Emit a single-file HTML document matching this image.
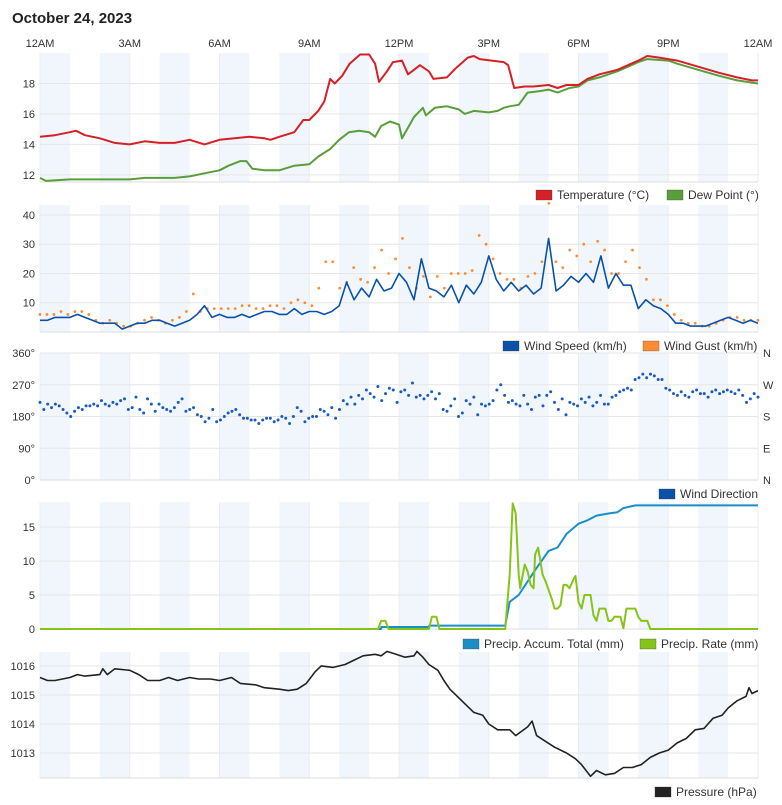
<!DOCTYPE html>
<html><head><meta charset="utf-8"><style>
body{margin:0;background:#fff;font-family:"Liberation Sans",sans-serif;}
svg text{font-family:"Liberation Sans",sans-serif;}
</style></head><body>
<svg id="c" width="782" height="800" viewBox="0 0 782 800">
<text x="12" y="23" font-size="15" font-weight="bold" fill="#222">October 24, 2023</text>
</svg>
<script>
const xTickLabels=["12AM","3AM","6AM","9AM","12PM","3PM","6PM","9PM","12AM"];
const tempHours=[0,0.5,1,1.2,1.5,2,2.5,3,3.5,4,4.5,5,5.5,6,6.5,7,7.5,7.7,8,8.5,8.8,9,9.3,9.5,9.7,9.85,10.1,10.35,10.7,11,11.2,11.33,11.6,11.8,12.1,12.3,12.5,12.7,13.0,13.15,13.6,13.9,14.3,14.5,14.7,15.1,15.5,15.65,15.85,16.2,16.5,17,17.3,17.6,18.0,18.3,18.7,19.3,20.0,20.3,20.7,21.3,22,22.7,23.3,23.8,24];
const tempValues=[14.5,14.6,14.8,14.9,14.6,14.4,14.1,14.0,14.2,14.1,14.1,14.3,14.0,14.3,14.4,14.5,14.4,14.3,14.5,14.8,15.6,15.6,16.2,16.8,18.3,18.0,18.5,19.3,19.9,19.9,19.3,18.1,18.8,19.4,19.5,18.6,18.9,19.2,18.8,18.3,18.4,19.0,19.7,19.8,19.6,19.5,19.4,19.2,17.7,17.8,17.8,17.9,17.7,17.9,17.9,18.3,18.6,18.9,19.5,19.8,19.7,19.5,19.1,18.7,18.4,18.2,18.2];
const dewHours=[0,0.2,1,1.5,2,3,3.5,4,4.5,5,5.5,6,6.3,6.7,6.9,7.1,7.5,8,8.5,9,9.3,9.7,10,10.33,10.67,11,11.2,11.4,11.7,12.0,12.1,12.33,12.5,12.7,12.8,12.9,13.2,13.6,14.0,14.2,14.5,15.0,15.3,15.5,15.7,16.0,16.3,16.7,17.0,17.3,17.7,18.0,18.3,18.7,19.3,20.0,20.3,21,21.3,22,22.7,23.3,24];
const dewValues=[11.8,11.6,11.7,11.7,11.7,11.7,11.8,11.8,11.8,11.9,12.1,12.3,12.6,12.9,12.9,12.4,12.3,12.3,12.6,12.7,13.2,13.7,14.3,14.8,14.9,14.8,14.5,15.2,15.5,15.3,14.4,15.2,15.8,16.2,16.4,15.9,16.4,16.5,16.3,16.0,16.2,16.1,16.2,16.4,16.5,16.6,17.4,17.5,17.6,17.4,17.7,17.8,18.2,18.4,18.8,19.4,19.6,19.5,19.3,18.9,18.5,18.2,18.0];
const windSpeed=[4,4,5,5,5,6,5,4,3,3,3,1,2,3,3,4,4,3,2,3,4,6,9,5,6,5,5,6,5,6,7,7,6,6,8,6,7,7,6,7,9,17,11,15,12,18,14,15,20,17,11,25,15,14,12,16,10,16,13,17,26,18,14,17,14,16,13,15,32,14,16,19,17,20,17,26,15,20,16,16,8,11,9,8,6,3,3,2,2,2,3,4,5,4,3,4,3];
const windGust=[6,6,6,7,6,7,7,6,4,3,4,3,2,2,3,4,5,4,3,4,5,7,13,7,8,8,8,8,8,9,9,8,8,9,9,8,10,11,10,9,15,24,24,15,17,22,18,17,22,28,20,25,32,22,15,19,12,19,15,20,20,20,21,33,30,25,20,18,18,15,19,20,24,44,24,22,28,26,30,24,31,28,20,20,24,28,22,18,11,11,9,6,4,3,3,2,2,3,4,5,5,4,4,4];
const windDir=[220,200,215,205,215,210,200,190,180,195,205,200,210,210,215,210,225,215,210,220,215,225,230,200,205,235,200,190,230,215,195,215,205,200,195,205,220,230,195,200,205,185,180,165,175,200,165,170,180,190,195,200,185,175,175,170,170,160,170,175,175,165,170,180,175,160,180,205,195,165,175,180,180,200,195,185,205,175,200,225,215,235,215,240,230,255,245,235,265,225,245,260,255,220,250,255,240,275,235,240,230,240,250,230,245,200,195,210,230,180,190,225,215,235,185,215,210,215,225,255,270,240,220,225,215,210,240,215,200,235,240,210,240,250,220,200,230,185,220,215,210,230,220,235,210,220,240,215,215,235,240,250,255,260,255,285,290,300,290,300,295,285,285,260,255,245,240,250,240,235,250,255,245,245,235,250,255,245,250,255,250,245,255,240,220,230,245,235];
const accumHours=[0,11.4,11.41,13.0,13.01,15.55,15.7,16.0,16.3,16.6,17.0,17.3,17.6,18.0,18.3,18.6,19.0,19.3,19.5,19.9,24];
const accumValues=[0,0,0.3,0.3,0.5,0.5,4,5,7,9,11.5,12,14,15.5,16,16.7,17,17.2,17.8,18.2,18.2];
const rateHours=[0,11.3,11.4,11.55,11.65,13.0,13.1,13.25,13.35,15.55,15.7,15.8,15.9,16.0,16.05,16.2,16.3,16.4,16.5,16.55,16.65,16.8,16.9,17.1,17.2,17.3,17.4,17.5,17.6,17.7,17.85,17.9,18.0,18.1,18.2,18.4,18.5,18.6,18.7,18.9,19.0,19.1,19.2,19.4,19.5,19.6,19.9,20.0,20.1,20.3,20.4,24];
const rateValues=[0,0,1.2,1.2,0,0,1.8,1.8,0,0,8,18.5,17,8,6,9.5,8.5,6.5,6,11,12,8,7,4.5,3,3,3.5,6.5,6.5,6,7.5,7.8,4,3,5,5,2,1.2,3,3,1.2,1.2,1.8,1.8,0.1,3,3,1.8,1.2,1.2,0,0];
const presHours=[0,0.25,0.5,1,1.25,1.5,2,2.1,2.25,2.5,3,3.3,3.6,4,4.3,4.6,5,5.3,5.7,6,6.4,6.7,7.2,7.5,8,8.3,8.6,8.9,9.2,9.4,9.8,10.2,10.5,10.8,11.2,11.4,11.6,11.9,12.2,12.5,12.6,12.8,13.0,13.3,13.5,13.7,14.2,14.5,14.8,15.0,15.3,15.7,15.9,16.3,16.45,16.6,16.9,17.2,17.6,17.9,18.1,18.4,18.6,18.9,19.2,19.5,19.8,20.1,20.4,20.7,21.0,21.3,21.6,21.9,22.2,22.5,22.8,23.0,23.3,23.6,23.7,23.8,24];
const presValues=[1015.6,1015.5,1015.5,1015.6,1015.7,1015.65,1015.7,1015.9,1015.7,1015.9,1015.85,1015.7,1015.5,1015.5,1015.6,1015.5,1015.6,1015.55,1015.55,1015.5,1015.6,1015.4,1015.35,1015.25,1015.2,1015.15,1015.2,1015.4,1015.8,1016.0,1015.95,1016.05,1016.2,1016.35,1016.4,1016.35,1016.5,1016.4,1016.3,1016.35,1016.5,1016.3,1016.05,1015.85,1015.5,1015.2,1014.7,1014.4,1014.3,1014.0,1013.8,1013.8,1013.6,1013.9,1014.1,1013.6,1013.4,1013.2,1013.0,1012.8,1012.6,1012.2,1012.4,1012.25,1012.3,1012.5,1012.5,1012.6,1012.85,1013.0,1013.1,1013.35,1013.5,1013.8,1013.85,1014.2,1014.3,1014.55,1014.8,1014.95,1015.25,1015.05,1015.15];
const tempTicks=[12,14,16,18];
const windTicks=[10,20,30,40];
const dirTicks=[0,90,180,270,360];
const dirCompass=["N","E","S","W","N"];
const precipTicks=[0,5,10,15];
const presTicks=[1013,1014,1015,1016];

const svg=document.getElementById('c');
const NS='http://www.w3.org/2000/svg';
const X0=40,X1=758;
function x(h){return X0+h*(X1-X0)/24;}
function mk(tag,attrs,parent){const e=document.createElementNS(NS,tag);for(const k in attrs)e.setAttribute(k,attrs[k]);(parent||svg).appendChild(e);return e;}
function yScale(p){return v=>p.bottom-(v-p.min)/(p.max-p.min)*(p.bottom-p.top);}

xTickLabels.forEach((t,i)=>{const e=mk('text',{x:x(i*3),y:47,'font-size':11,fill:'#333','text-anchor':'middle'});e.textContent=t;

});

function panel(name,p,ticks,fmt){
  const g=mk('g',{});
  
  
  for(let h=0;h<24;h+=2){const r=mk('rect',{x:x(h),y:p.top,width:x(1)-x(0),height:p.bottom-p.top,fill:'#f0f6fb'},g);
    
    }
  for(let h=0;h<=24;h+=3){mk('line',{x1:x(h),x2:x(h),y1:p.top,y2:p.bottom,stroke:'#e8edf2','stroke-width':1},g);}
  const y=yScale(p);
  ticks.forEach(v=>{mk('line',{x1:X0,x2:X1,y1:y(v),y2:y(v),stroke:'#e6e6e6','stroke-width':1},g);
    const t=mk('text',{x:35,y:y(v)+4,'font-size':11,fill:'#333','text-anchor':'end'},g);t.textContent=fmt?fmt(v):v;
    
    });
  mk('line',{x1:X0,x2:X1,y1:p.bottom,y2:p.bottom,stroke:'#ddd','stroke-width':1},g);
  return y;
}
function line(hours,vals,y,color,w,name){
  const d=vals.map((v,i)=>(i?'L':'M')+x(hours[i]).toFixed(1)+','+y(v).toFixed(1)).join('');
  const e=mk('path',{d:d,fill:'none',stroke:color,'stroke-width':w,'stroke-linejoin':'round'});
  
  
}
function idxHours(arr){return arr.map((_,i)=>i*24/(arr.length-1));}
function dots(vals,y,color,r,name){const hs=idxHours(vals);vals.forEach((v,i)=>{const c=mk('circle',{cx:x(hs[i]),cy:y(v),r:r,fill:color});
  
  });}
function legend(items,yy){items.forEach(it=>{const r=mk('rect',{x:it[0],y:yy-9,width:16,height:10,fill:it[1],stroke:'#333','stroke-width':0.3});
  
  
  const t=mk('text',{x:it[0]+21,y:yy,'font-size':12,fill:'#333'});t.textContent=it[2];
  
  });}

const pT={top:53,bottom:182,min:11.53,max:20};
const yT=panel('temperature',pT,tempTicks);
line(dewHours,dewValues,yT,'#5a9e3c',2,'dew-point-line');
line(tempHours,tempValues,yT,'#d62028',2,'temperature-line');
legend([[536,'#d62028','Temperature (°C)'],[667,'#5a9e3c','Dew Point (°)']],199);

const pW={top:205,bottom:332,min:0,max:43.4};
const yW=panel('wind',pW,windTicks);
dots(windGust,yW,'#ff8c34',1.4,'wind-gust-dot');
line(idxHours(windSpeed),windSpeed,yW,'#0a52a8',1.6,'wind-speed-line');
legend([[503,'#0a52a8','Wind Speed (km/h)'],[643,'#ff8c34','Wind Gust (km/h)']],350);

const pD={top:353,bottom:480,min:0,max:360};
const yD=panel('wind-direction',pD,dirTicks,v=>v+'°');
dirTicks.forEach((v,i)=>{const t=mk('text',{x:763,y:yD(v)+4,'font-size':11,fill:'#333'});t.textContent=dirCompass[i];
  
  });
dots(windDir,yD,'#1a5bbf',1.5,'wind-direction-dot');
legend([[659,'#0a52a8','Wind Direction']],498);

const pP={top:502,bottom:629,min:0,max:18.7};
const yP=panel('precip',pP,precipTicks);
line(accumHours,accumValues,yP,'#1a8fc6',2,'precip-accum-line');
line(rateHours,rateValues,yP,'#86c41a',2,'precip-rate-line');
legend([[463,'#1a8fc6','Precip. Accum. Total (mm)'],[640,'#86c41a','Precip. Rate (mm)']],648);

const pR={top:652,bottom:778,min:1012.14,max:1016.48};
const yR=panel('pressure',pR,presTicks);
line(presHours,presValues,yR,'#222',1.6,'pressure-line');
legend([[655,'#222','Pressure (hPa)']],796);
</script>
</body></html>
